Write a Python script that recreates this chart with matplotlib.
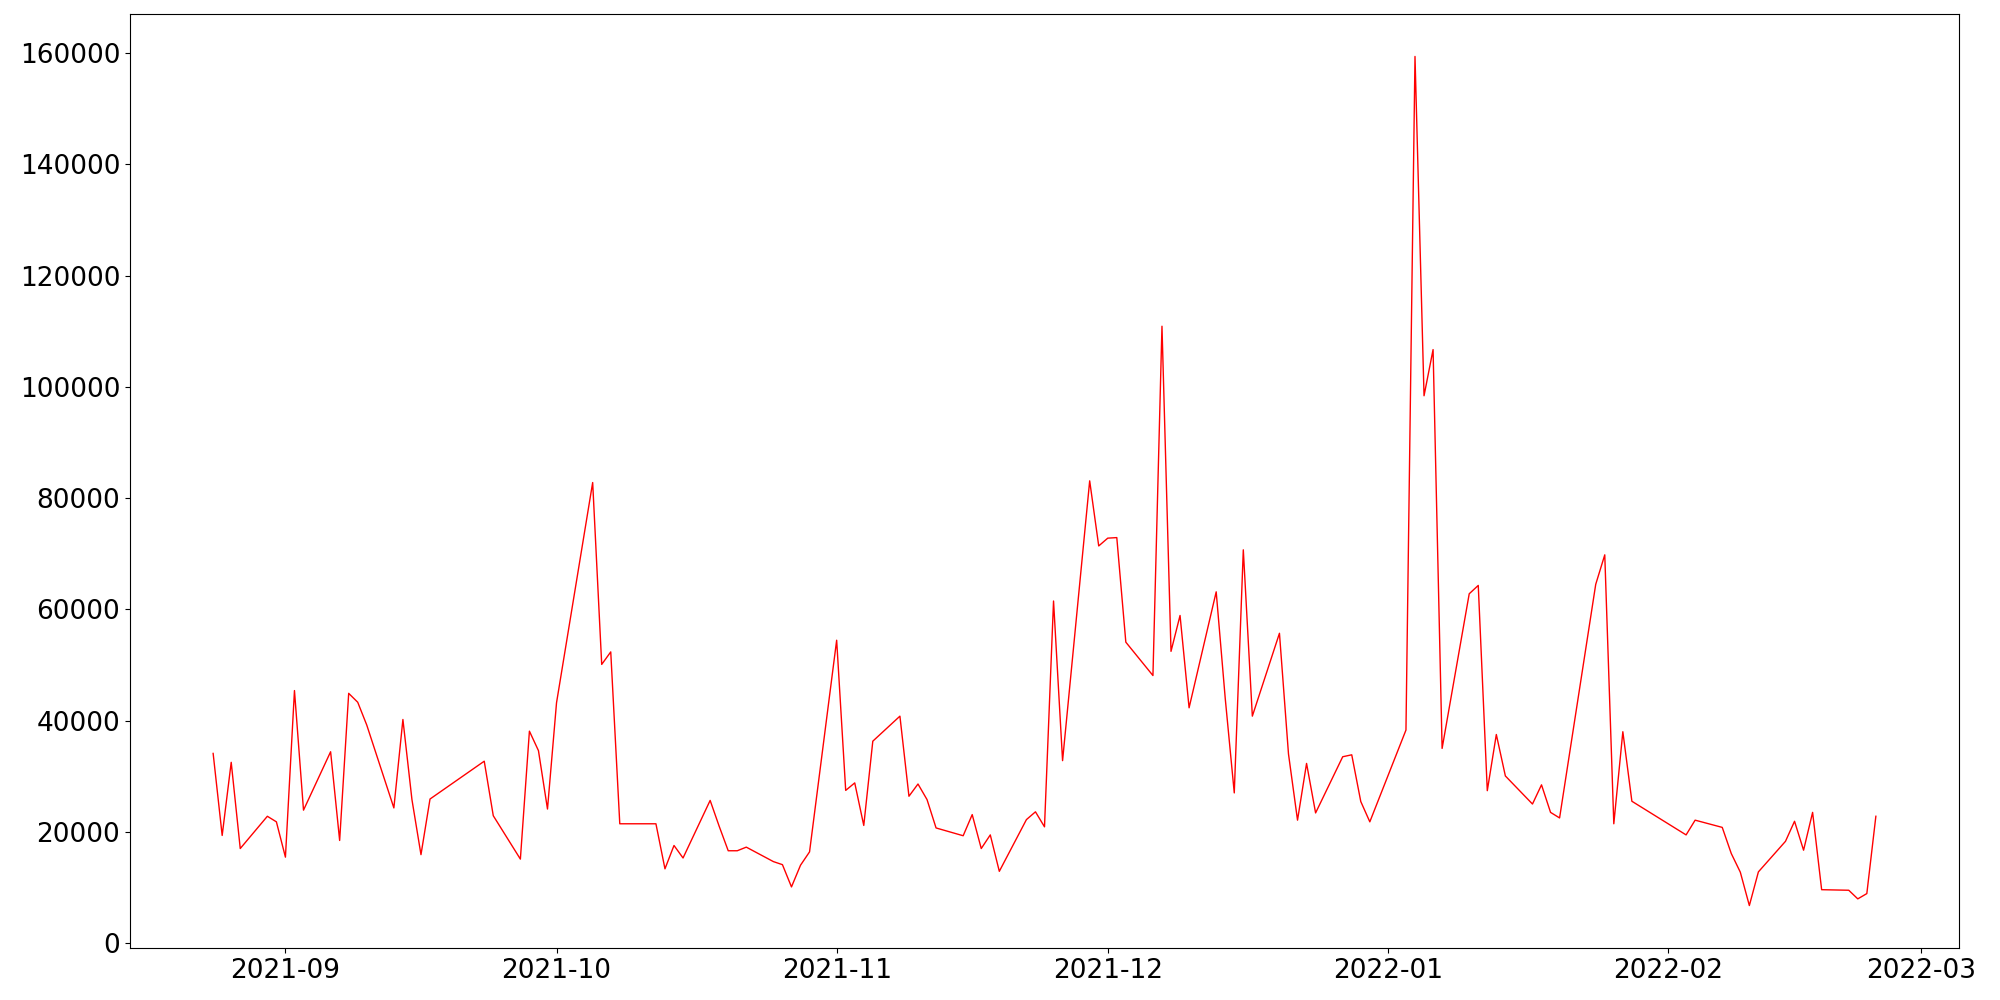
import pandas as pd
import matplotlib
matplotlib.use("Agg")
import matplotlib.pyplot as plt

dates = [
    "2021-08-24", "2021-08-25", "2021-08-26", "2021-08-27", "2021-08-30", "2021-08-31",
    "2021-09-01", "2021-09-02", "2021-09-03", "2021-09-06", "2021-09-07", "2021-09-08",
    "2021-09-09", "2021-09-10", "2021-09-13", "2021-09-14", "2021-09-15", "2021-09-16",
    "2021-09-17", "2021-09-23", "2021-09-24", "2021-09-27", "2021-09-28", "2021-09-29",
    "2021-09-30", "2021-10-01", "2021-10-05", "2021-10-06", "2021-10-07", "2021-10-08",
    "2021-10-12", "2021-10-13", "2021-10-14", "2021-10-15", "2021-10-18", "2021-10-19",
    "2021-10-20", "2021-10-21", "2021-10-22", "2021-10-25", "2021-10-26", "2021-10-27",
    "2021-10-28", "2021-10-29", "2021-11-01", "2021-11-02", "2021-11-03", "2021-11-04",
    "2021-11-05", "2021-11-08", "2021-11-09", "2021-11-10", "2021-11-11", "2021-11-12",
    "2021-11-15", "2021-11-16", "2021-11-17", "2021-11-18", "2021-11-19", "2021-11-22",
    "2021-11-23", "2021-11-24", "2021-11-25", "2021-11-26", "2021-11-29", "2021-11-30",
    "2021-12-01", "2021-12-02", "2021-12-03", "2021-12-06", "2021-12-07", "2021-12-08",
    "2021-12-09", "2021-12-10", "2021-12-13", "2021-12-14", "2021-12-15", "2021-12-16",
    "2021-12-17", "2021-12-20", "2021-12-21", "2021-12-22", "2021-12-23", "2021-12-24",
    "2021-12-27", "2021-12-28", "2021-12-29", "2021-12-30", "2022-01-03", "2022-01-04",
    "2022-01-05", "2022-01-06", "2022-01-07", "2022-01-10", "2022-01-11", "2022-01-12",
    "2022-01-13", "2022-01-14", "2022-01-17", "2022-01-18", "2022-01-19", "2022-01-20",
    "2022-01-24", "2022-01-25", "2022-01-26", "2022-01-27", "2022-01-28", "2022-02-03",
    "2022-02-04", "2022-02-07", "2022-02-08", "2022-02-09", "2022-02-10", "2022-02-11",
    "2022-02-14", "2022-02-15", "2022-02-16", "2022-02-17", "2022-02-18", "2022-02-21",
    "2022-02-22", "2022-02-23", "2022-02-24",
]

values = [
    34100, 19350, 32500, 17000, 22800, 21800,
    15450, 45400, 23900, 34400, 18450, 44900,
    43300, 39200, 24300, 40200, 25800, 15900,
    25900, 32700, 22900, 15100, 38100, 34600,
    24100, 43200, 82800, 50100, 52350, 21450,
    21450, 13350, 17550, 15300, 25650, 21000,
    16600, 16600, 17250, 14650, 14100, 10100,
    14000, 16400, 54450, 27450, 28800, 21150,
    36300, 40800, 26400, 28600, 25800, 20700,
    19300, 23100, 17000, 19450, 12900, 22200,
    23600, 20900, 61500, 32800, 83100, 71400,
    72800, 72900, 54100, 48100, 110900, 52450,
    58900, 42300, 63150, 44000, 27000, 70700,
    40800, 55700, 34000, 22100, 32300, 23400,
    33500, 33850, 25450, 21800, 38300, 159400,
    98400, 106700, 35000, 62800, 64300, 27400,
    37500, 30050, 25000, 28450, 23500, 22500,
    64500, 69800, 21450, 38000, 25500, 19450,
    22100, 20800, 16100, 12750, 6750, 12800,
    18300, 21900, 16700, 23500, 9600, 9500,
    7950, 8900, 22800,
]

x = pd.to_datetime(dates)

fig = plt.figure(figsize=(20, 10), dpi=100)
ax = fig.add_axes([0.065, 0.052, 0.9145, 0.934])
ax.plot(x, values, color="red", linewidth=1)
ax.tick_params(labelsize=19)

fig.savefig("out.png")
